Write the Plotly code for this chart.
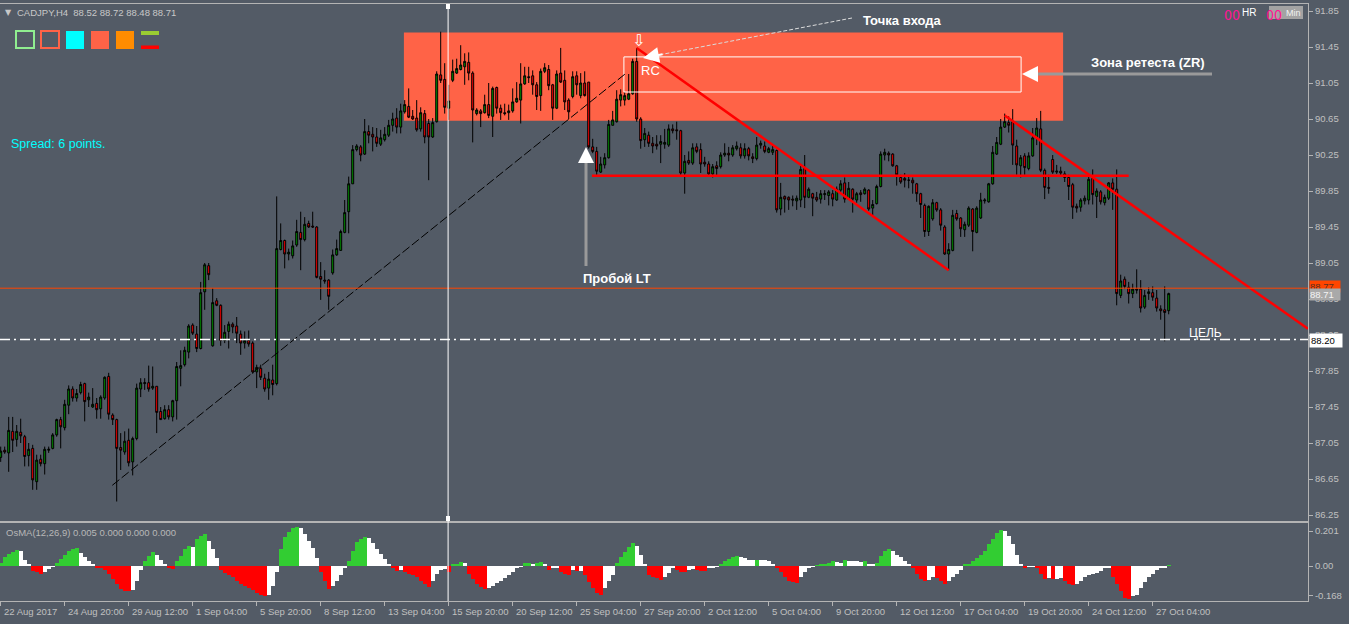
import plotly.graph_objects as go

# ---------------- data ----------------
opens = [
    86.89, 86.97, 86.94, 87.18, 87.09, 87.17, 87.12, 86.91, 86.99, 86.62,
    86.87, 86.82, 86.97, 86.99, 87.14, 87.31, 87.22, 87.47, 87.65, 87.55,
    87.61, 87.71, 87.53, 87.45, 87.49, 87.43, 87.55, 87.79, 87.36, 87.31,
    87.00, 86.95, 87.08, 86.84, 87.10, 87.65, 87.71, 87.72, 87.66, 87.68,
    87.40, 87.32, 87.42, 87.34, 87.52, 87.88, 87.92, 88.06, 88.36, 88.26,
    88.10, 88.73, 89.02, 88.13, 88.63, 88.58, 88.19, 88.29, 88.37, 88.35,
    88.26, 88.16, 88.19, 88.16, 87.84, 87.88, 87.77, 87.66, 87.75, 87.71,
    89.20, 89.30, 89.15, 89.13, 89.25, 89.39, 89.31, 89.49, 89.46, 89.45,
    88.90, 88.86, 88.86, 88.94, 89.14, 89.19, 89.39, 89.62, 89.93, 90.31,
    90.34, 90.26, 90.51, 90.48, 90.45, 90.37, 90.42, 90.47, 90.58, 90.66,
    90.56, 90.73, 90.79, 90.68, 90.66, 90.54, 90.71, 90.60, 90.45, 90.62,
    91.14, 91.09, 90.77, 91.08, 91.16, 91.20, 91.23, 91.28, 91.16, 90.71,
    90.74, 90.72, 90.81, 90.68, 91.00, 90.77, 90.72, 90.72, 90.74, 90.84,
    90.86, 91.04, 91.12, 91.13, 91.03, 90.91, 91.18, 91.20, 91.03, 90.77,
    91.16, 91.08, 90.86, 90.90, 91.13, 90.91, 91.05, 91.06, 90.34, 90.29,
    90.06, 90.14, 90.22, 90.58, 90.62, 90.86, 90.86, 90.87, 90.93, 91.29,
    90.65, 90.42, 90.47, 90.38, 90.37, 90.37, 90.37, 90.36, 90.54, 90.53,
    90.52, 90.05, 90.19, 90.16, 90.34, 90.31, 90.17, 90.15, 90.04, 90.13,
    90.12, 90.25, 90.27, 90.25, 90.32, 90.33, 90.24, 90.32, 90.23, 90.21,
    90.36, 90.35, 90.28, 90.28, 90.30, 89.65, 89.79, 89.78, 89.76, 89.74,
    89.75, 90.10, 89.78, 89.82, 89.78, 89.76, 89.81, 89.80, 89.82, 89.75,
    89.86, 89.94, 89.76, 89.87, 89.75, 89.83, 89.82, 89.86, 89.66, 89.71,
    89.90, 90.25, 90.27, 90.26, 90.13, 90.00, 89.99, 89.97, 89.97, 89.93,
    89.82, 89.69, 89.40, 89.54, 89.72, 89.64, 89.45, 89.15, 89.19, 89.60,
    89.55, 89.42, 89.47, 89.65, 89.39, 89.55, 89.74, 89.73, 89.93, 90.26,
    90.37, 90.56, 90.61, 90.62, 90.35, 90.13, 90.24, 90.10, 90.24, 90.44,
    90.54, 90.08, 89.89, 90.20, 90.06, 90.07, 90.04, 90.00, 89.92, 89.68,
    89.67, 89.74, 89.75, 89.99, 89.79, 89.84, 89.72, 89.77, 89.94, 89.87,
    88.69, 88.87, 88.78, 88.71, 88.76, 88.76, 88.56, 88.71, 88.72, 88.66,
    88.54, 88.53, 88.52,
]
highs = [
    87.01, 87.01, 87.34, 87.34, 87.25, 87.32, 87.14, 87.05, 87.03, 86.92,
    86.92, 87.01, 87.01, 87.16, 87.32, 87.34, 87.53, 87.69, 87.68, 87.65,
    87.73, 87.72, 87.61, 87.66, 87.55, 87.58, 87.79, 87.83, 87.38, 87.32,
    87.16, 87.18, 87.21, 87.12, 87.71, 87.77, 87.77, 87.91, 87.90, 87.68,
    87.45, 87.47, 87.47, 87.53, 87.95, 88.08, 88.12, 88.37, 88.38, 88.35,
    88.84, 89.05, 89.05, 88.77, 88.66, 88.59, 88.36, 88.40, 88.39, 88.45,
    88.30, 88.29, 88.30, 88.18, 87.92, 87.92, 87.82, 87.84, 87.92, 89.79,
    89.49, 89.31, 89.21, 89.30, 89.53, 89.62, 89.56, 89.52, 89.62, 89.46,
    89.06, 88.97, 88.87, 89.20, 89.31, 89.42, 89.75, 90.01, 90.36, 90.37,
    90.36, 90.65, 90.58, 90.56, 90.55, 90.53, 90.56, 90.64, 90.72, 90.77,
    90.82, 90.86, 90.99, 90.75, 90.86, 90.78, 90.75, 90.65, 90.66, 91.18,
    91.62, 91.27, 91.03, 91.31, 91.32, 91.47, 91.38, 91.39, 91.18, 90.77,
    90.76, 90.92, 91.05, 91.01, 91.01, 90.81, 90.82, 90.81, 90.99, 91.06,
    91.27, 91.23, 91.23, 91.19, 91.06, 91.21, 91.27, 91.25, 91.04, 91.19,
    91.44, 91.19, 90.88, 91.18, 91.18, 91.16, 91.18, 91.06, 90.43, 90.34,
    90.23, 90.27, 90.64, 90.74, 90.97, 90.98, 90.95, 91.15, 91.32, 91.44,
    90.67, 90.55, 90.51, 90.45, 90.47, 90.47, 90.54, 90.59, 90.59, 90.62,
    90.53, 90.25, 90.29, 90.38, 90.38, 90.38, 90.23, 90.18, 90.15, 90.18,
    90.28, 90.38, 90.34, 90.36, 90.40, 90.38, 90.38, 90.34, 90.27, 90.45,
    90.41, 90.40, 90.34, 90.36, 90.31, 89.94, 89.80, 89.79, 89.80, 89.80,
    90.14, 90.25, 89.89, 89.83, 89.84, 89.86, 89.86, 89.86, 89.86, 89.90,
    89.97, 90.00, 89.95, 89.88, 89.84, 89.86, 89.89, 89.87, 89.75, 89.92,
    90.29, 90.32, 90.29, 90.27, 90.14, 90.03, 90.05, 90.01, 90.00, 89.94,
    89.83, 89.71, 89.69, 89.76, 89.73, 89.66, 89.47, 89.27, 89.64, 89.64,
    89.56, 89.51, 89.68, 89.66, 89.68, 89.83, 89.77, 89.94, 90.35, 90.45,
    90.65, 90.71, 90.68, 90.76, 90.42, 90.25, 90.27, 90.28, 90.55, 90.66,
    90.74, 90.10, 90.03, 90.25, 90.14, 90.12, 90.07, 90.03, 89.94, 89.71,
    89.77, 89.80, 90.03, 90.09, 89.88, 89.86, 89.81, 89.95, 89.99, 90.09,
    88.92, 88.90, 88.84, 88.82, 88.98, 88.86, 88.75, 88.78, 88.79, 88.75,
    88.58, 88.79, 88.72,
]
lows = [
    86.84, 86.93, 86.73, 86.95, 87.01, 87.05, 86.79, 86.79, 86.53, 86.53,
    86.79, 86.70, 86.94, 86.98, 87.12, 86.99, 87.19, 87.37, 87.51, 87.51,
    87.59, 87.29, 87.45, 87.44, 87.32, 87.32, 87.53, 87.31, 87.25, 86.40,
    86.75, 86.92, 86.79, 86.69, 87.08, 87.56, 87.64, 87.62, 87.64, 87.16,
    87.31, 87.31, 87.31, 87.29, 87.31, 87.68, 87.90, 87.99, 88.25, 88.06,
    88.09, 88.53, 88.86, 88.12, 88.57, 88.13, 88.16, 88.10, 88.27, 88.16,
    88.03, 88.10, 88.12, 87.82, 87.66, 87.75, 87.62, 87.53, 87.58, 87.69,
    89.19, 88.99, 89.08, 89.10, 89.23, 88.97, 89.29, 89.44, 89.44, 88.88,
    88.64, 88.82, 88.53, 88.92, 89.13, 89.19, 89.38, 89.38, 89.93, 90.29,
    90.18, 90.25, 90.38, 90.29, 90.34, 90.35, 90.40, 90.45, 90.51, 90.49,
    90.49, 90.71, 90.66, 90.64, 90.51, 90.51, 90.38, 89.97, 90.44, 90.61,
    91.05, 90.71, 90.64, 91.06, 91.15, 91.19, 91.03, 91.08, 90.39, 90.69,
    90.56, 90.71, 90.66, 90.45, 90.71, 90.64, 90.69, 90.64, 90.72, 90.83,
    90.60, 91.03, 91.05, 90.92, 90.75, 90.74, 91.16, 90.97, 90.64, 90.76,
    91.05, 90.75, 90.65, 90.88, 90.92, 90.88, 90.90, 90.32, 90.27, 90.03,
    90.05, 90.10, 90.21, 90.58, 90.61, 90.79, 90.80, 90.86, 90.92, 90.62,
    90.32, 90.34, 90.34, 90.27, 90.31, 90.16, 90.32, 90.34, 90.49, 90.42,
    90.03, 89.82, 90.14, 90.14, 90.27, 90.05, 90.12, 90.01, 90.00, 90.01,
    90.10, 90.23, 90.18, 90.23, 90.30, 90.21, 90.21, 90.19, 90.16, 90.19,
    90.32, 90.27, 90.27, 90.25, 89.61, 89.58, 89.61, 89.64, 89.68, 89.64,
    89.67, 89.66, 89.77, 89.57, 89.73, 89.71, 89.75, 89.69, 89.68, 89.74,
    89.84, 89.72, 89.75, 89.61, 89.72, 89.73, 89.81, 89.63, 89.57, 89.70,
    89.89, 90.19, 90.18, 90.12, 89.91, 89.93, 89.89, 89.88, 89.82, 89.73,
    89.55, 89.34, 89.35, 89.52, 89.62, 89.41, 89.14, 88.97, 89.18, 89.52,
    89.34, 89.34, 89.45, 89.18, 89.38, 89.54, 89.71, 89.72, 89.92, 90.25,
    90.36, 90.55, 90.50, 90.14, 90.03, 90.00, 90.03, 90.08, 90.23, 90.36,
    90.06, 89.76, 89.82, 90.04, 90.04, 90.02, 89.95, 89.75, 89.54, 89.61,
    89.62, 89.70, 89.70, 89.70, 89.55, 89.70, 89.69, 89.75, 89.64, 88.58,
    88.66, 88.76, 88.60, 88.66, 88.71, 88.50, 88.54, 88.64, 88.63, 88.51,
    88.42, 88.18, 88.48,
]
closes = [
    86.96, 86.95, 87.19, 87.08, 87.18, 87.13, 86.90, 86.98, 86.64, 86.86,
    86.82, 86.98, 86.98, 87.14, 87.31, 87.23, 87.48, 87.65, 87.55, 87.60,
    87.70, 87.51, 87.56, 87.48, 87.42, 87.56, 87.78, 87.37, 87.31, 86.99,
    86.97, 87.07, 86.83, 87.10, 87.66, 87.72, 87.72, 87.65, 87.68, 87.39,
    87.31, 87.42, 87.34, 87.52, 87.90, 87.91, 88.08, 88.35, 88.27, 88.10,
    88.72, 89.03, 88.92, 88.61, 88.58, 88.19, 88.28, 88.37, 88.34, 88.27,
    88.16, 88.19, 88.15, 87.84, 87.89, 87.78, 87.65, 87.76, 87.70, 89.21,
    89.30, 89.15, 89.17, 89.24, 89.40, 89.31, 89.48, 89.45, 89.45, 88.89,
    88.87, 88.85, 88.68, 89.14, 89.21, 89.40, 89.61, 89.93, 90.31, 90.35,
    90.25, 90.51, 90.47, 90.45, 90.38, 90.44, 90.48, 90.58, 90.65, 90.56,
    90.74, 90.81, 90.67, 90.65, 90.53, 90.72, 90.45, 90.45, 90.61, 91.15,
    91.08, 90.78, 90.85, 91.18, 91.21, 91.25, 91.29, 91.16, 90.75, 90.75,
    90.71, 90.81, 90.69, 90.99, 90.77, 90.72, 90.71, 90.74, 90.84, 90.88,
    91.04, 91.13, 91.11, 91.03, 90.90, 91.18, 91.22, 91.02, 90.77, 91.15,
    91.06, 90.84, 90.73, 91.12, 91.03, 91.05, 90.91, 90.34, 90.29, 90.07,
    90.15, 90.22, 90.59, 90.64, 90.87, 90.92, 90.91, 90.93, 91.29, 90.65,
    90.41, 90.49, 90.38, 90.35, 90.35, 90.40, 90.39, 90.54, 90.52, 90.52,
    90.05, 90.18, 90.16, 90.33, 90.29, 90.15, 90.15, 90.04, 90.12, 90.10,
    90.25, 90.27, 90.25, 90.33, 90.35, 90.24, 90.32, 90.24, 90.21, 90.36,
    90.38, 90.29, 90.32, 90.31, 89.64, 89.78, 89.76, 89.75, 89.75, 89.77,
    90.09, 89.78, 89.87, 89.77, 89.75, 89.82, 89.82, 89.84, 89.76, 89.87,
    89.93, 89.76, 89.88, 89.76, 89.82, 89.81, 89.87, 89.65, 89.70, 89.90,
    90.26, 90.28, 90.25, 90.13, 90.03, 89.95, 89.97, 89.97, 89.94, 89.82,
    89.70, 89.40, 89.68, 89.72, 89.64, 89.47, 89.15, 89.20, 89.58, 89.54,
    89.43, 89.48, 89.66, 89.40, 89.66, 89.75, 89.75, 89.93, 90.28, 90.39,
    90.56, 90.62, 90.58, 90.36, 90.14, 90.22, 90.11, 90.24, 90.44, 90.55,
    90.08, 89.89, 89.88, 90.06, 90.07, 90.05, 90.00, 89.90, 89.67, 89.66,
    89.75, 89.77, 89.98, 89.81, 89.85, 89.73, 89.78, 89.94, 89.87, 88.71,
    88.85, 88.79, 88.71, 88.76, 88.75, 88.55, 88.69, 88.73, 88.67, 88.55,
    88.52, 88.50, 88.71,
]
osma = [
    0.02, 0.05, 0.07, 0.082, 0.09, 0.086, 0.036, 0.006,
    -0.03, -0.034, -0.048, -0.034, -0.018, -0.004,
    0.02, 0.042, 0.066, 0.086, 0.10, 0.102,
    0.076, 0.05, 0.026, 0.006,
    -0.01, -0.014, -0.024, -0.044, -0.074, -0.104, -0.13, -0.144, -0.146,
    -0.138, -0.084, -0.024,
    0.026, 0.056, 0.082,
    0.062, 0.036, 0.006,
    -0.014, -0.02,
    0.026, 0.056, 0.096, 0.116, 0.112, 0.155, 0.175, 0.185,
    0.146, 0.096, 0.046,
    -0.024, -0.038, -0.054, -0.064, -0.084, -0.104, -0.114, -0.124, -0.138, -0.154, -0.168, -0.17,
    -0.164, -0.114, -0.034,
    0.096, 0.166, 0.196, 0.216, 0.226,
    0.216, 0.186, 0.146, 0.106, 0.046,
    -0.034, -0.084, -0.13,
    -0.114, -0.084, -0.054, -0.014,
    0.026, 0.086, 0.136, 0.156, 0.166,
    0.16, 0.13, 0.10, 0.07, 0.04, 0.01,
    -0.01, -0.026, -0.022, -0.034, -0.044, -0.054, -0.064, -0.084, -0.104, -0.12,
    -0.084, -0.044, -0.024, -0.018,
    -0.034,
    0.006, 0.01, 0.022,
    0.016,
    -0.044, -0.074, -0.104, -0.12, -0.13,
    -0.124, -0.114, -0.1, -0.084, -0.07, -0.054, -0.034, -0.01, -0.004,
    0.016, 0.02, 0.01, 0.02, 0.022, 0.006,
    -0.024, -0.014, -0.012, -0.034, -0.044, -0.05, -0.024, -0.03, -0.026,
    -0.054, -0.094, -0.124, -0.154, -0.168,
    -0.124, -0.084, -0.054,
    0.02, 0.05, 0.08, 0.11, 0.13,
    0.116, 0.062, 0.01,
    -0.054, -0.064, -0.07, -0.078,
    -0.064, -0.038, -0.014,
    -0.024, -0.034, -0.036,
    -0.024, -0.02,
    -0.024, -0.026, -0.028,
    -0.014, -0.01, -0.004,
    0.006, 0.026, 0.042, 0.054, 0.056,
    0.052, 0.046, 0.036, 0.034,
    0.036,
    0.034, 0.032, 0.026, 0.006,
    -0.014, -0.034, -0.064, -0.084, -0.094, -0.096,
    -0.064, -0.034, -0.014, -0.004,
    0.002, 0.006, 0.01, 0.016, 0.026,
    0.022, 0.016,
    0.034,
    0.03, 0.028, 0.026, 0.024,
    0.026,
    0.01, 0.006,
    0.016, 0.056, 0.086, 0.096,
    0.086, 0.066, 0.05, 0.026, 0.006,
    -0.014, -0.044, -0.074, -0.084,
    -0.08, -0.064,
    -0.068, -0.084, -0.104,
    -0.084, -0.064, -0.044, -0.024,
    0.006, 0.01, 0.026, 0.046, 0.066, 0.086, 0.126, 0.156, 0.19, 0.205,
    0.2, 0.175, 0.126, 0.066, 0.006,
    -0.008,
    -0.004, -0.002,
    -0.014, -0.044, -0.074,
    -0.07,
    -0.076,
    -0.072, -0.07,
    -0.084, -0.104, -0.108,
    -0.104, -0.084, -0.064, -0.054, -0.044, -0.038, -0.03, -0.014, -0.01,
    -0.064, -0.104, -0.144, -0.184, -0.19,
    -0.174, -0.164, -0.124, -0.094, -0.064, -0.044, -0.024, -0.014, -0.008,
    0.005,
]

x_tick_bars = list(range(0, 289, 16))
x_tick_labels = [
    "22 Aug 2017", "24 Aug 20:00", "29 Aug 12:00", "1 Sep 04:00", "5 Sep 20:00",
    "8 Sep 12:00", "13 Sep 04:00", "15 Sep 20:00", "20 Sep 12:00", "25 Sep 04:00",
    "27 Sep 20:00", "2 Oct 12:00", "5 Oct 04:00", "9 Oct 20:00", "12 Oct 12:00",
    "17 Oct 04:00", "19 Oct 20:00", "24 Oct 12:00", "27 Oct 04:00",
]
price_ticks = [91.85, 91.45, 91.05, 90.65, 90.25, 89.85, 89.45, 89.05,
               88.65, 88.25, 87.85, 87.45, 87.05, 86.65, 86.25]
osma_ticks = [0.201, 0.0, -0.168]
osma_tick_labels = ["0.201", "0.00", "-0.168"]

# chart objects drawn by the author (bar index, price)
zone_bars = [100.8, 265.6]
zone_prices = [90.63, 91.61]
retest_bars = [155.8, 255.1]
retest_prices = [90.95, 91.34]
level_bars = [147.8, 282.0]
level_price = 90.02
trend1 = [(159.0, 91.44), (237.0, 88.97)]
trend2 = [(251.0, 90.69), (326.8, 88.32)]
lt_line = [(27.9, 86.58), (156.1, 91.15)]
ask_price = 88.77
bid_price = 88.71
target_price = 88.20
vline_bar = 111.85

# ---------------- layout geometry ----------------
W, H = 1349, 624
PL, PR, PT, PB = 0, 1308, 4, 601
BG = "#535b66"
AXC = "#b4b4b4"
TXT = "#c0c0c0"
FONT = "Liberation Sans, Arial, sans-serif"
NARROW = "Liberation Sans Narrow, DejaVu Sans Condensed, Liberation Sans, sans-serif"


def PX(x):
    return (x - PL) / (PR - PL)


def PY(y):
    return (PB - y) / (PB - PT)


n = len(closes)
bars = list(range(n))

# OsMA colour: rising positive green, falling white, falling negative red
osma_colors = []
for i, v in enumerate(osma):
    prev = osma[i - 1] if i > 0 else 0.0
    if v >= 0:
        osma_colors.append("#32cd32" if v >= prev else "#ffffff")
    else:
        osma_colors.append("#ff0000" if v <= prev else "#ffffff")

fig = go.Figure()
fig.add_trace(go.Candlestick(
    x=bars, open=opens, high=highs, low=lows, close=closes,
    xaxis="x", yaxis="y",
    increasing=dict(line=dict(color="black", width=1), fillcolor="#008c00"),
    decreasing=dict(line=dict(color="black", width=1), fillcolor="#ff0000"),
    whiskerwidth=0, hoverinfo="skip", showlegend=False,
))
fig.add_trace(go.Bar(
    x=list(range(len(osma))), y=osma, xaxis="x2", yaxis="y2",
    marker=dict(color=osma_colors, line=dict(width=0)), width=1.0,
    hoverinfo="skip", showlegend=False,
))

shapes = []
annotations = []

# resistance zone and retest box
shapes.append(dict(type="rect", xref="x", yref="y", x0=zone_bars[0], x1=zone_bars[1],
                   y0=zone_prices[0], y1=zone_prices[1], fillcolor="#ff6347",
                   line=dict(width=0), layer="below"))
shapes.append(dict(type="rect", xref="x", yref="y", x0=retest_bars[0], x1=retest_bars[1],
                   y0=retest_prices[0], y1=retest_prices[1], fillcolor="rgba(0,0,0,0)",
                   line=dict(color="white", width=1), layer="above"))
# LT dashed trend line
shapes.append(dict(type="line", xref="x", yref="y", x0=lt_line[0][0], y0=lt_line[0][1],
                   x1=lt_line[1][0], y1=lt_line[1][1],
                   line=dict(color="black", width=1, dash="9px,3px")))
# red lines
shapes.append(dict(type="line", xref="x", yref="y", x0=level_bars[0], x1=level_bars[1],
                   y0=level_price, y1=level_price, line=dict(color="#ff0000", width=2.5)))
for tl in (trend1, trend2):
    shapes.append(dict(type="line", xref="x", yref="y", x0=tl[0][0], y0=tl[0][1],
                       x1=tl[1][0], y1=tl[1][1], line=dict(color="#ff0000", width=2.5)))
# ask line & target line
shapes.append(dict(type="line", xref="paper", yref="y", x0=0, x1=1, y0=ask_price, y1=ask_price,
                   line=dict(color="#ff4500", width=1)))
shapes.append(dict(type="line", xref="paper", yref="y", x0=0, x1=1, y0=target_price, y1=target_price,
                   line=dict(color="white", width=1.5, dash="10px,4px,2px,4px")))
# vertical white line across both panels
shapes.append(dict(type="line", xref="x", yref="paper", x0=vline_bar, x1=vline_bar, y0=0, y1=1,
                   line=dict(color="white", width=1)))
for (ya, yb) in ((4, 9), (516, 521)):
    shapes.append(dict(type="rect", xref="paper", yref="paper", x0=PX(446), x1=PX(450),
                       y0=PY(yb), y1=PY(ya), fillcolor="white", line=dict(width=0)))


def prect(x0, y0, x1, y1, fill=None, line=None, lw=0):
    shapes.append(dict(type="rect", xref="paper", yref="paper", x0=PX(x0), x1=PX(x1),
                       y0=PY(y1), y1=PY(y0),
                       fillcolor=fill if fill else "rgba(0,0,0,0)",
                       line=dict(color=line if line else "rgba(0,0,0,0)", width=lw)))


def pline(x0, y0, x1, y1, color, width, dash=None):
    d = dict(color=color, width=width)
    if dash:
        d["dash"] = dash
    shapes.append(dict(type="line", xref="paper", yref="paper", x0=PX(x0), x1=PX(x1),
                       y0=PY(y0), y1=PY(y1), line=d))


def ptext(text, x, y, size, color, bold=False, xanchor="left", family=FONT, **kw):
    if bold:
        text = "<b>" + text + "</b>"
    a = dict(text=text, xref="paper", yref="paper", x=PX(x), y=PY(y), xanchor=xanchor,
             yanchor="middle", showarrow=False, font=dict(size=size, color=color, family=family))
    a.update(kw)
    annotations.append(a)


def phead(x, y, ax, ay):
    annotations.append(dict(text="", xref="paper", yref="paper", x=PX(x), y=PY(y), ax=ax, ay=ay,
                            showarrow=True, arrowhead=2, arrowsize=1.6, arrowwidth=2,
                            arrowcolor="white"))


# legend squares in the top-left corner
prect(16, 31, 34, 48, line="#90ee90", lw=2)
prect(41, 31, 59, 48, line="#ff6347", lw=2)
prect(66, 31, 84, 49, fill="#00ffff")
prect(91, 31, 109, 49, fill="#ff6347")
prect(116, 31, 134, 49, fill="#ff8c00")
prect(141, 31, 159, 35, fill="#9acd32")
prect(141, 45.5, 159, 49, fill="#ff0000")

ptext("▼", 3, 12.5, 8, "#c8c8c8", family="DejaVu Sans")
ptext("CADJPY,H4  88.52 88.72 88.48 88.71", 15, 12.5, 9.5, "#c8c8c8")
ptext("Spread: 6 points.", 9, 144, 12.5, "#00ffff")

# top-right timer
prect(1269, 6, 1303, 19, fill="#a3a3a3")
ptext("00", 1222, 15.5, 14, "#ff1493", family=NARROW)
ptext("HR", 1240, 12.5, 10, "white")
ptext("00", 1264, 15.5, 14, "#ff1493", family=NARROW)
ptext("Min", 1284, 12.5, 9, "#f2f2f2")

# chart labels
ptext("RC", 639, 71, 13, "white")
ptext("⇩", 638, 40, 16, "white", xanchor="center", family="DejaVu Sans")
ptext("Точка входа", 861, 20, 13, "white", bold=True)
ptext("Зона ретеста (ZR)", 1089, 62, 13, "white", bold=True)
ptext("Пробой LT", 581, 278, 13, "white", bold=True)
ptext("ЦЕЛЬ", 1187, 333, 12, "white")

# arrows
pline(852, 18, 656, 55.5, "#dcdcdc", 1, dash="4px,2px")
phead(643, 58, 21, -4)
pline(1212, 74, 1036, 74, "#9a9a9a", 3)
phead(1022, 74, 16, 0)
pline(586, 266, 586, 160, "#9a9a9a", 3)
phead(586, 147, 0, 16)

# price labels on the right axis
ptext("88.77", 1309, 286, 9.5, "#5a3020", bgcolor="#ff4500", width=30, align="left", borderpad=0)
ptext("88.71", 1309, 294.5, 9.5, "#f4f4f4", bgcolor="#a9a9a9", width=30, align="left", borderpad=0)
ptext("88.20", 1309, 340, 9.5, "black", bgcolor="white", width=30, align="left", borderpad=1)

# indicator caption
ptext("OsMA(12,26,9) 0.005 0.000 0.000 0.000", 4, 532, 9.5, "#b8b8b8")

# x-axis labels (left aligned at tick)
for b, lab in zip(x_tick_bars, x_tick_labels):
    annotations.append(dict(text=lab, xref="x2", yref="paper", x=b, y=PY(611), xanchor="left",
                            yanchor="middle", xshift=1, showarrow=False,
                            font=dict(size=9.5, color=TXT, family=FONT)))

x_range = [(PL - 0.7) / 4.0, (PR - 0.7) / 4.0]
main_range = [91.85 - (521 - 11) / 90.0, 91.85 + (11 - PT) / 90.0]
osma_range = [-(PB - 566) / 174.0, (566 - 523) / 174.0]

fig.update_layout(
    width=W, height=H, autosize=False,
    margin=dict(l=PL, r=W - PR, t=PT, b=H - PB, pad=0),
    paper_bgcolor=BG, plot_bgcolor=BG,
    showlegend=False, bargap=0, hovermode=False,
    font=dict(family=FONT, size=10, color=TXT),
    xaxis=dict(domain=[0, 1], anchor="y", range=x_range, showgrid=False, zeroline=False,
               showticklabels=False, ticks="", showline=True, mirror=True, linecolor=AXC,
               linewidth=1, rangeslider=dict(visible=False), fixedrange=True),
    xaxis2=dict(domain=[0, 1], anchor="y2", range=x_range, matches="x", showgrid=False,
                zeroline=False, showticklabels=False, ticks="outside", ticklen=4, tickcolor=AXC,
                tickvals=x_tick_bars, showline=True, mirror=True, linecolor=AXC, linewidth=1),
    yaxis=dict(domain=[PY(521), 1], anchor="x", side="right", range=main_range, showgrid=False,
               zeroline=False, showline=True, linecolor=AXC, linewidth=1, ticks="outside",
               ticklen=4, tickcolor=AXC, tickvals=price_ticks,
               ticktext=["%.2f" % v for v in price_ticks],
               tickfont=dict(size=9.5, color=TXT, family=FONT)),
    yaxis2=dict(domain=[0, PY(523)], anchor="x2", side="right", range=osma_range, showgrid=False,
                zeroline=False, showline=True, linecolor=AXC, linewidth=1, ticks="outside",
                ticklen=4, tickcolor=AXC, tickvals=osma_ticks, ticktext=osma_tick_labels,
                tickfont=dict(size=9.5, color=TXT, family=FONT)),
    shapes=shapes,
    annotations=annotations,
)

# remove the default page margin so the figure sits at the window's top-left corner
page_fix = ("document.body.style.margin='0';document.body.style.padding='0';"
            "document.body.style.background='%s';document.documentElement.style.overflow='hidden';" % BG)

fig.write_html("out.html", post_script=page_fix, config={"displayModeBar": False})
